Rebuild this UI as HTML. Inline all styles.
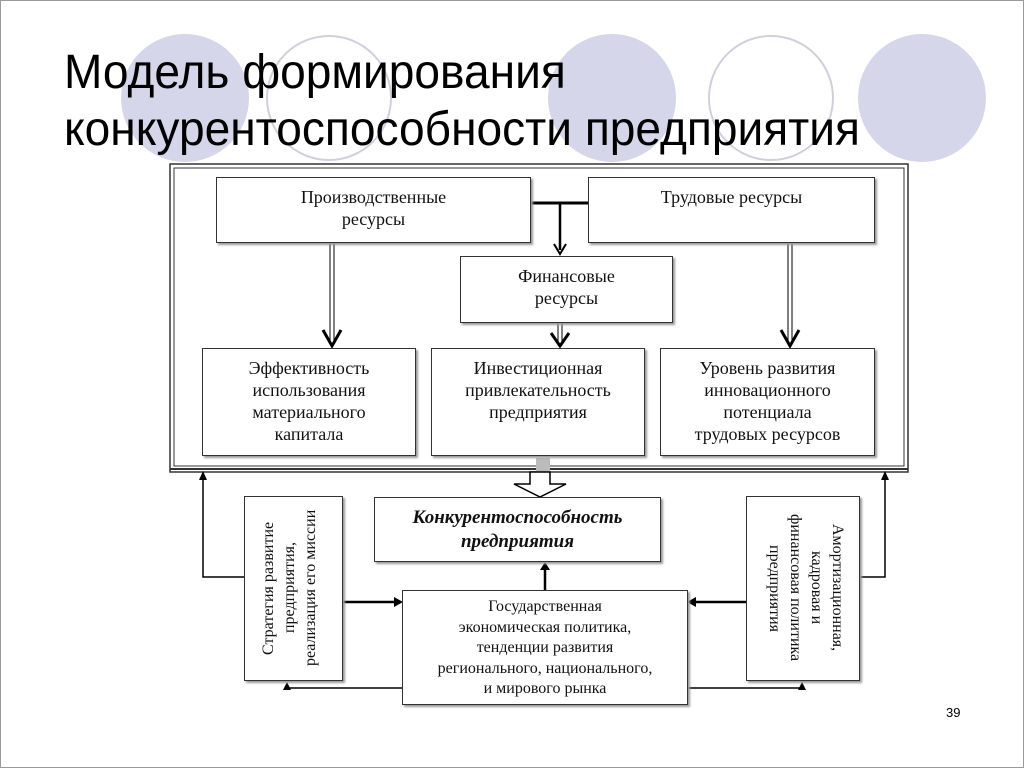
<!DOCTYPE html>
<html><head><meta charset="utf-8"><style>
body{margin:0;width:1024px;height:768px;background:#fff;overflow:hidden;position:relative;font-family:"Liberation Serif",serif}
.t{position:absolute;left:64px;font-family:"Liberation Sans",sans-serif;font-size:48px;color:#000;white-space:nowrap;line-height:1;transform-origin:0 0;transform:scaleX(0.96)}
.b{position:absolute;border:1.5px solid #333;background:#fff;box-sizing:border-box;text-align:center;font-size:18px;line-height:22px;color:#111;box-shadow:2px 2px 2px #999}
.v{position:absolute;writing-mode:vertical-rl;text-align:center;font-size:16px;line-height:21px;color:#111;white-space:nowrap}
</style></head><body>
<svg width="1024" height="768" style="position:absolute;left:0;top:0">
<rect x="0.5" y="0.5" width="1023" height="767" fill="none" stroke="#999"/>
<circle cx="185" cy="98" r="64" fill="#d6d6ea"/>
<circle cx="329" cy="98" r="62" fill="none" stroke="#d0d0dc" stroke-width="2"/>
<circle cx="612" cy="98" r="64" fill="#d6d6ea"/>
<circle cx="771" cy="98" r="62" fill="none" stroke="#d0d0dc" stroke-width="2"/>
<circle cx="922" cy="98" r="64" fill="#d6d6ea"/>
<rect x="170" y="164" width="738" height="308" fill="#fff" stroke="#333" stroke-width="1.5"/>
<rect x="174" y="168" width="730" height="298" fill="none" stroke="#333" stroke-width="1"/>
<line x1="170" y1="469" x2="908" y2="469" stroke="#333" stroke-width="2"/>
<g stroke="#000" fill="none">
<line x1="531" y1="203" x2="588" y2="203" stroke-width="3"/>
<line x1="560" y1="203" x2="560" y2="250" stroke-width="2.5"/>
<path d="M554 244 L560 254 L566 244" stroke-width="2"/>
<line x1="330" y1="243" x2="330" y2="344"/><line x1="334" y1="243" x2="334" y2="344"/>
<path d="M323 330 L332 346 L341 330" stroke-width="3"/>
<line x1="558" y1="323" x2="558" y2="344"/><line x1="562" y1="323" x2="562" y2="344"/>
<path d="M551 333 L560 346 L569 333" stroke-width="3"/>
<line x1="788" y1="243" x2="788" y2="344"/><line x1="792" y1="243" x2="792" y2="344"/>
<path d="M781 330 L790 346 L799 330" stroke-width="3"/>
</g>
<rect x="536" y="458" width="14" height="30" fill="#bbb"/>
<path d="M530 472 L550 472 L550 484 L566 484 L540 497 L514 484 L530 484 Z" fill="#fff" stroke="#000" stroke-width="1.5"/>
<g stroke="#000" fill="none" stroke-width="1.5">
<polyline points="244,577 203,577 203,476"/>
<polyline points="860,577 885,577 885,476"/>
<polyline points="402,688 287,688 287,686"/>
<polyline points="688,688 802,688 802,686"/>
<line x1="343" y1="602" x2="396" y2="602" stroke-width="2.5"/>
<line x1="746" y1="602" x2="694" y2="602" stroke-width="2.5"/>
<line x1="545" y1="590" x2="545" y2="568" stroke-width="2.5"/>
</g>
<g fill="#000">
<path d="M199 480 L203 471 L207 480 Z"/><path d="M881 480 L885 471 L889 480 Z"/>
<path d="M283 690 L287 682 L291 690 Z"/><path d="M798 690 L802 682 L806 690 Z"/>
<path d="M394 597 L403 602 L394 607 Z"/><path d="M696 597 L687 602 L696 607 Z"/>
<path d="M540 570 L545 562 L550 570 Z"/>
</g>
</svg>
<div class="t" style="top:49px">Модель формирования</div>
<div class="t" style="top:106px">конкурентоспособности предприятия</div>
<div class="b" style="left:216px;top:177px;width:315px;height:66px;padding-top:8px">Производственные<br>ресурсы</div>
<div class="b" style="left:588px;top:177px;width:287px;height:66px;padding-top:8px">Трудовые ресурсы</div>
<div class="b" style="left:460px;top:256px;width:213px;height:67px;padding-top:8px">Финансовые<br>ресурсы</div>
<div class="b" style="left:202px;top:348px;width:214px;height:108px;padding-top:8px">Эффективность<br>использования<br>материального<br>капитала</div>
<div class="b" style="left:431px;top:348px;width:214px;height:108px;padding-top:8px">Инвестиционная<br>привлекательность<br>предприятия</div>
<div class="b" style="left:660px;top:348px;width:215px;height:108px;padding-top:8px">Уровень развития<br>инновационного<br>потенциала<br>трудовых ресурсов</div>
<div class="b" style="left:374px;top:497px;width:287px;height:65px;padding-top:8px;font-weight:bold;font-style:italic;font-size:19px;line-height:24px">Конкурентоспособность<br>предприятия</div>
<div class="b" style="left:402px;top:590px;width:286px;height:115px;padding-top:6px;font-size:16px;line-height:20.5px">Государственная<br>экономическая политика,<br>тенденции развития<br>регионального, национального,<br>и мирового рынка</div>
<div class="b" style="left:244px;top:496px;width:99px;height:185px"></div>
<div class="v" style="left:258px;top:500px;width:72px;height:176px;transform:rotate(180deg)">Стратегия развитие<br>предприятия,<br>реализация его миссии</div>
<div class="b" style="left:746px;top:496px;width:114px;height:185px"></div>
<div class="v" style="left:760px;top:500px;width:88px;height:176px">Амортизационная,<br>кадровая и<br>финансовая политика<br>предприятия</div>
<div style="position:absolute;left:946px;top:705px;font-family:'Liberation Sans',sans-serif;font-size:13px">39</div>
</body></html>
